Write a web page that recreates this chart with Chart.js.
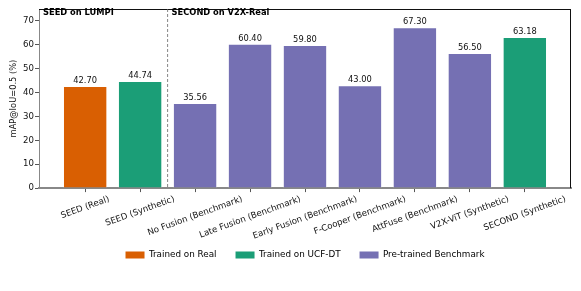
<!DOCTYPE html>
<html>
<head>
<meta charset="utf-8">
<script src="https://cdn.jsdelivr.net/npm/chart.js@4.4.1/dist/chart.umd.min.js"></script>
<style>
    html, body { margin: 0; padding: 0; background: #fff; }
</style>
</head>
<body>
<canvas id="chart-map-results" width="581" height="291"></canvas>
<script>
// Data
const categories = [
    'SEED (Real)', 'SEED (Synthetic)', 'No Fusion (Benchmark)', 'Late Fusion (Benchmark)',
    'Early Fusion (Benchmark)', 'F-Cooper (Benchmark)', 'AttFuse (Benchmark)',
    'V2X-ViT (Synthetic)', 'SECOND (Synthetic)'
];
const mapValues = [42.70, 44.74, 35.56, 60.40, 59.80, 43.00, 67.30, 56.50, 63.18];
const barGroups = [0, 1, 2, 2, 2, 2, 2, 2, 1];
const groupNames = ['Trained on Real', 'Trained on UCF-DT', 'Pre-trained Benchmark'];
const groupColors = ['#d95f02', '#1b9e77', '#7570b3'];
const yTicks = [0, 10, 20, 30, 40, 50, 60, 70];
const panelTitles = ['SEED on LUMPI', 'SECOND on V2X-Real'];
const panelStarts = [-0.84, 1.5];   // x values where each panel starts
const panelSplit = 1.5;

const ChartComponent = function () {
    const FONT = 'DejaVu Sans';
    const SIZE = 8.3;
    const TICK_SIZE = 8.6;

    // value labels above bars
    const valueLabels = {
        id: 'valueLabels',
        afterDatasetsDraw(chart) {
            const ctx = chart.ctx;
            const bars = chart.getDatasetMeta(0).data;
            ctx.save();
            ctx.font = SIZE + 'px "' + FONT + '"';
            ctx.fillStyle = '#111';
            ctx.textAlign = 'center';
            ctx.textBaseline = 'alphabetic';
            bars.forEach((bar, i) => {
                ctx.fillText(mapValues[i].toFixed(2), bar.x, bar.y - 3);
            });
            ctx.restore();
        }
    };

    // frame, split line, panel titles, rotated category labels
    const decorations = {
        id: 'decorations',
        afterDraw(chart) {
            const ctx = chart.ctx;
            const area = chart.chartArea;
            const x = chart.scales.x;

            ctx.save();
            ctx.strokeStyle = '#111';
            ctx.lineWidth = 1;
            ctx.beginPath();
            ctx.moveTo(area.left, Math.round(area.top) + 0.5);
            ctx.lineTo(area.right, Math.round(area.top) + 0.5);
            ctx.moveTo(Math.round(area.right) - 0.5, area.top);
            ctx.lineTo(Math.round(area.right) - 0.5, area.bottom);
            ctx.stroke();

            const sx = x.getPixelForValue(panelSplit);
            ctx.strokeStyle = '#666';
            ctx.lineWidth = 0.8;
            ctx.setLineDash([3, 2]);
            ctx.beginPath();
            ctx.moveTo(sx, area.top);
            ctx.lineTo(sx, area.bottom);
            ctx.stroke();
            ctx.setLineDash([]);

            ctx.fillStyle = '#000';
            ctx.font = 'bold ' + SIZE + 'px "' + FONT + '"';
            ctx.textAlign = 'left';
            ctx.textBaseline = 'alphabetic';
            panelTitles.forEach((t, i) => {
                const px = i === 0 ? area.left : x.getPixelForValue(panelStarts[i]);
                ctx.fillText(t, px + 4, area.top + 5.8);
            });

            ctx.font = TICK_SIZE + 'px "' + FONT + '"';
            ctx.fillStyle = '#111';
            ctx.textAlign = 'center';
            ctx.textBaseline = 'middle';
            const rot = 20 * Math.PI / 180;
            categories.forEach((label, i) => {
                const tx = x.getPixelForValue(i);
                const w = ctx.measureText(label).width;
                const h = TICK_SIZE * 1.17;
                const boxH = w * Math.sin(rot) + h * Math.cos(rot);
                const cy = area.bottom + 6 + boxH / 2;
                ctx.save();
                ctx.translate(tx, cy);
                ctx.rotate(-rot);
                ctx.fillText(label, 0, 0);
                ctx.restore();
            });
            ctx.restore();
        }
    };

    const init = function () {
        Chart.defaults.font.family = FONT;
        Chart.defaults.font.size = SIZE;
        Chart.defaults.color = '#111';

        new Chart(document.getElementById('chart-map-results'), {
            type: 'bar',
            data: {
                datasets: [{
                    data: mapValues.map((v, i) => ({ x: i, y: v })),
                    backgroundColor: barGroups.map(g => groupColors[g]),
                    borderColor: 'rgba(255, 255, 255, 0.55)',
                    borderWidth: 0.8,
                    barPercentage: 0.8,
                    categoryPercentage: 1
                }]
            },
            options: {
                responsive: false,
                animation: false,
                layout: { padding: { left: 0, top: 9, right: 10, bottom: 21.5 } },
                plugins: {
                    tooltip: { enabled: false },
                    legend: {
                        position: 'bottom',
                        fullSize: false,
                        onClick: null,
                        labels: {
                            boxWidth: 19,
                            boxHeight: 7,
                            padding: 19,
                            color: '#111',
                            font: { size: 8.8 },
                            generateLabels: () => groupNames.map((name, g) => ({
                                text: name,
                                fillStyle: groupColors[g],
                                strokeStyle: groupColors[g],
                                lineWidth: 0,
                                hidden: false,
                                datasetIndex: 0
                            }))
                        }
                    }
                },
                scales: {
                    x: {
                        type: 'linear',
                        offset: false,
                        min: -0.84,
                        max: 8.84,
                        afterBuildTicks: scale => {
                            scale.ticks = categories.map((c, i) => ({ value: i }));
                        },
                        afterFit: scale => { scale.height = 43.6; },
                        ticks: { display: false },
                        grid: { offset: false, drawOnChartArea: false, drawTicks: true, tickLength: 4, color: '#555' },
                        border: { display: true, color: '#888', width: 2 }
                    },
                    y: {
                        min: 0,
                        max: 75,
                        afterBuildTicks: scale => {
                            scale.ticks = yTicks.map(v => ({ value: v }));
                        },
                        afterFit: scale => { scale.width = 39; },
                        ticks: { padding: 1, color: '#111', font: { size: TICK_SIZE } },
                        grid: { drawOnChartArea: false, drawTicks: true, tickLength: 4, color: '#555' },
                        border: { display: true, color: '#888', width: 1 },
                        title: {
                            display: true,
                            text: 'mAP@IoU=0.5 (%)',
                            color: '#111',
                            padding: { top: 9, bottom: 0 }
                        }
                    }
                }
            },
            plugins: [valueLabels, decorations]
        });
    };

    return {
        init: init
    };
}();

ChartComponent.init();
</script>
</body>
</html>
